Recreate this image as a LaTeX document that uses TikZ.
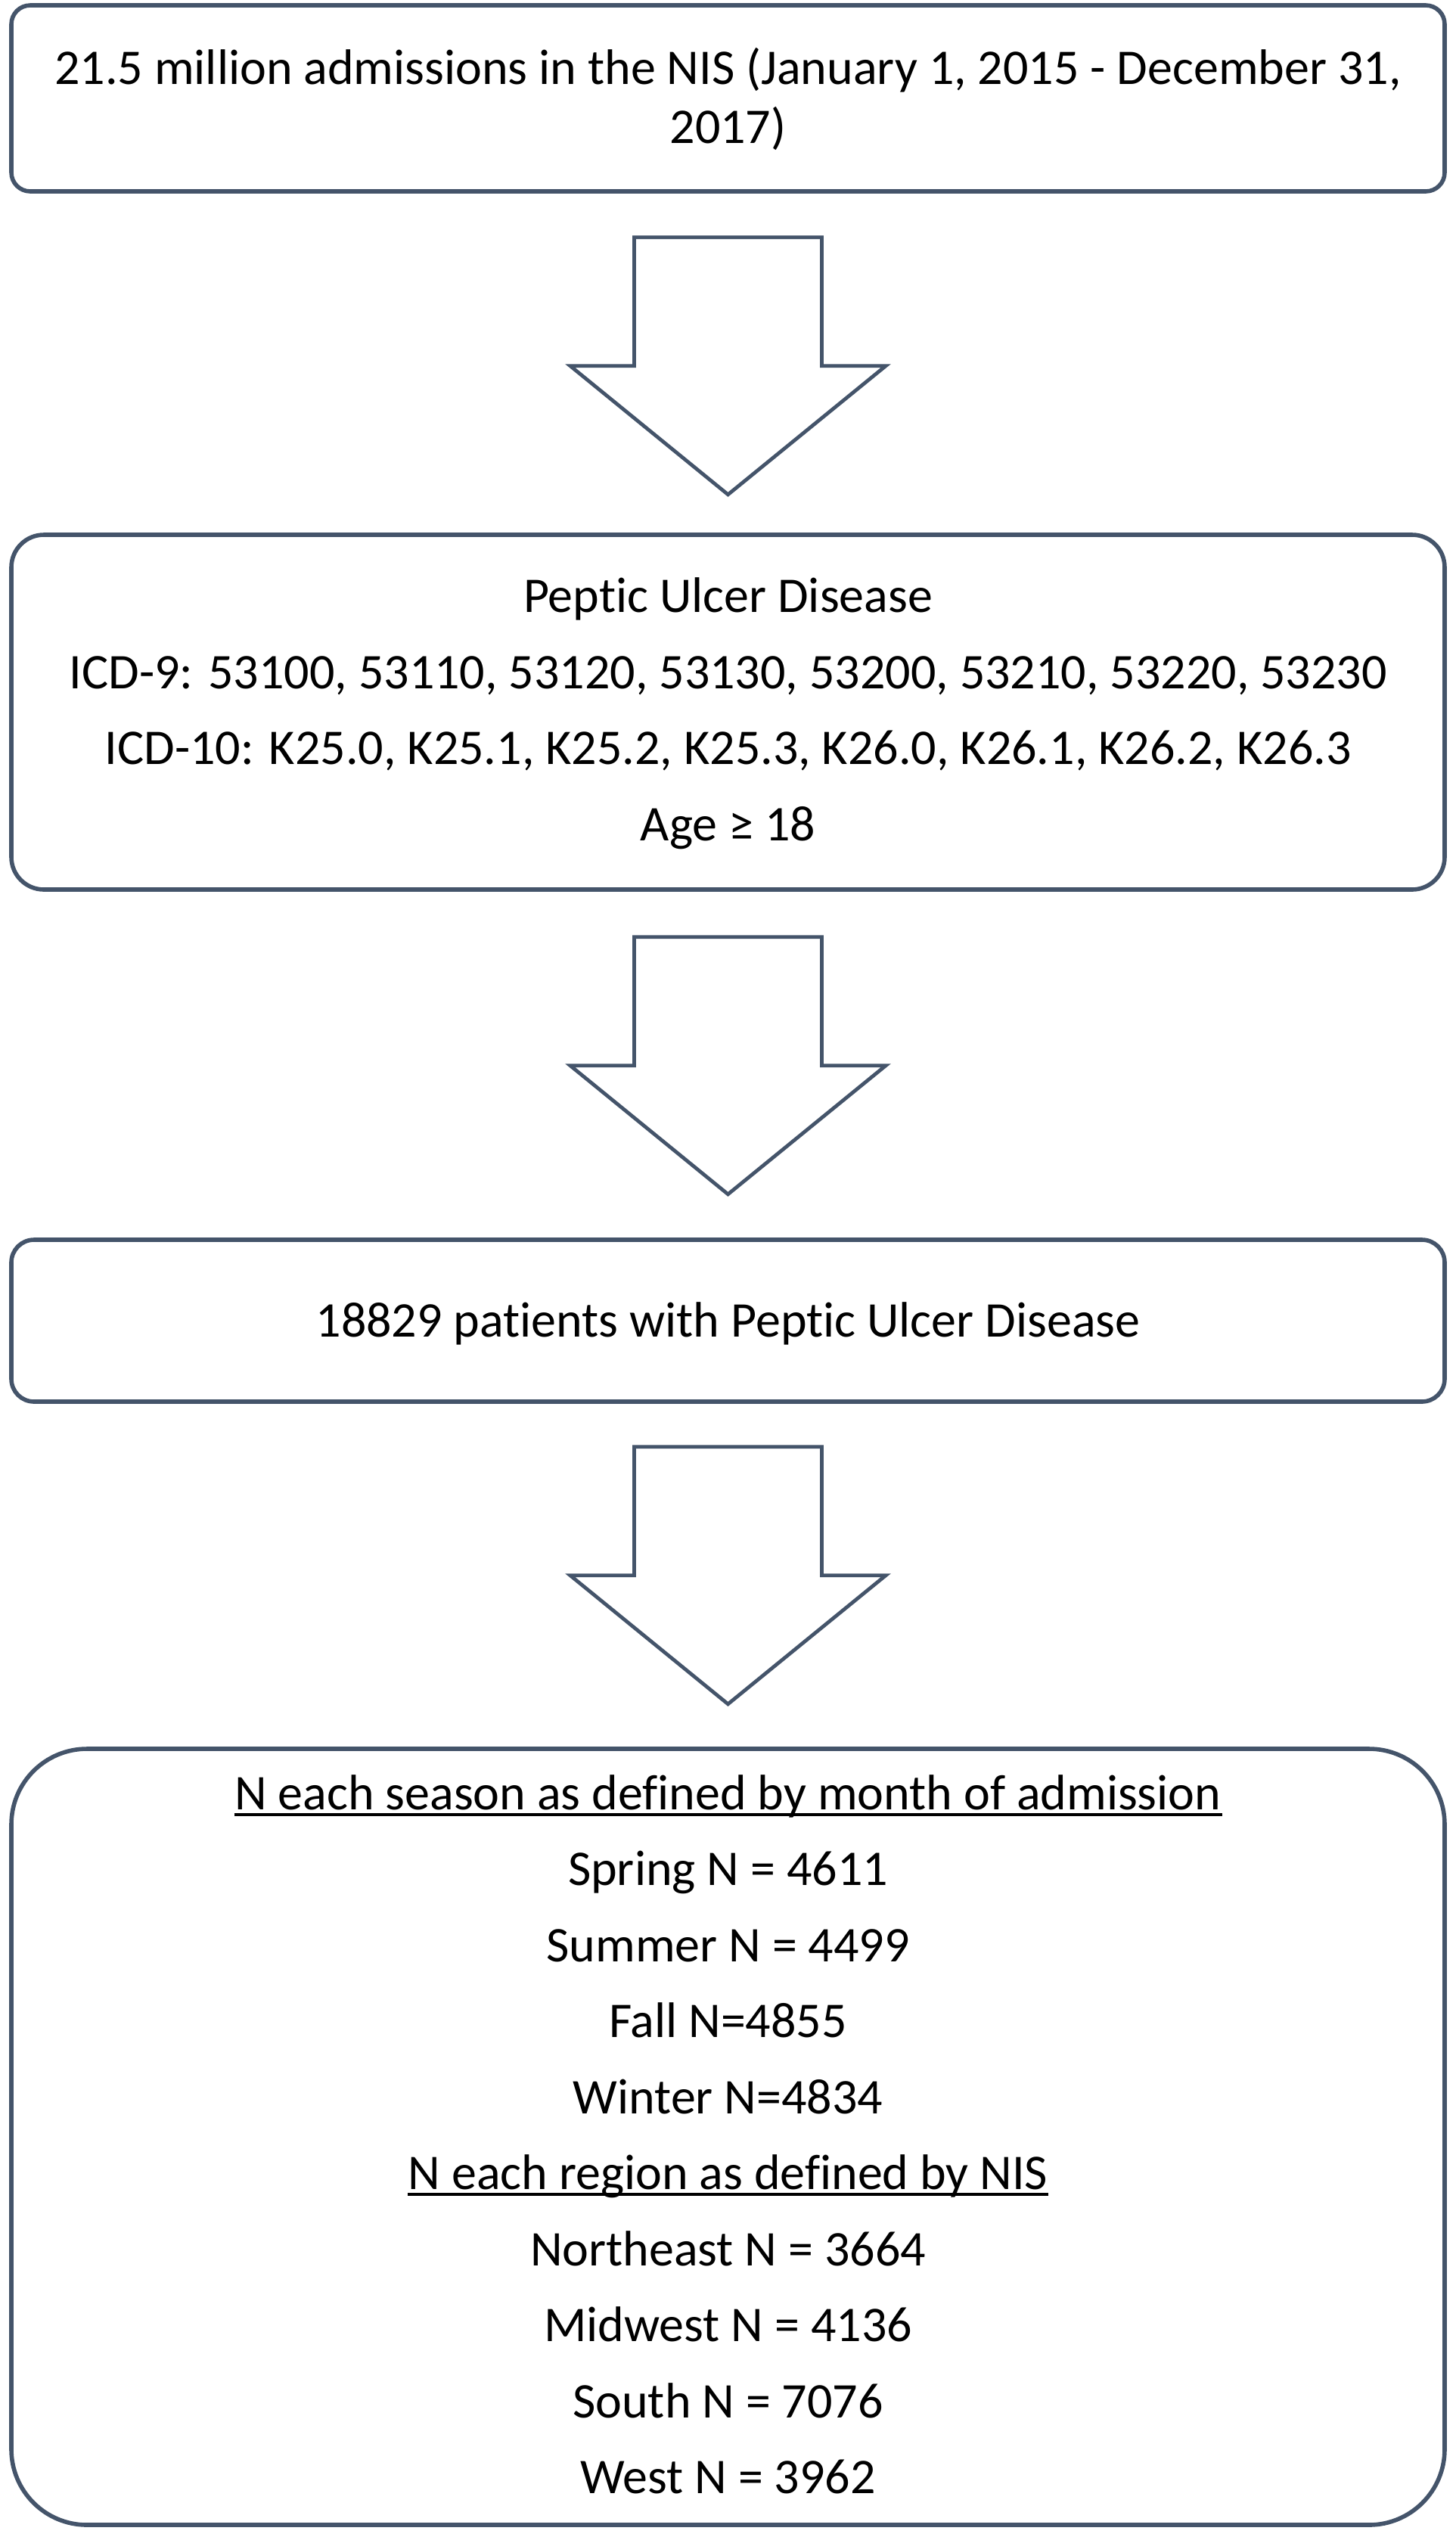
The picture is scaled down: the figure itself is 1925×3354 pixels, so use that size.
\documentclass[tikz,border=0pt]{standalone}
\usepackage{fontspec}
\setmainfont{Carlito}[Ligatures=NoCommon]
\definecolor{edgec}{HTML}{44546A}
\begin{document}
\begin{tikzpicture}[x=0.25pt,y=-0.25pt,
  box/.style={draw=edgec, line width=1.4pt, fill=white, minimum width=473.75pt, inner sep=0pt},
  txt/.style={inner sep=0pt, anchor=base, font=\fontsize{16.5pt}{20pt}\selectfont},
  ulinestyle/.style={line width=1pt},
  blockarr/.pic={\draw[draw=edgec, line width=1.2pt, fill=white, line join=miter]
    (-124,0) -- (124,0) -- (124,170) -- (208.5,170) -- (0,340) -- (-208.5,170) -- (-124,170) -- cycle;}]
\useasboundingbox (0,0) rectangle (1925,3354);

% boxes
\node[box, rounded corners=6.25pt, minimum height=61.5pt] (b1) at (962.5,130) {};
\node[box, rounded corners=10.75pt, minimum height=117.25pt] (b2) at (962.5,941.5) {};
\node[box, rounded corners=7.5pt, minimum height=53.5pt] (b3) at (962.5,1746) {};
\node[box, rounded corners=25pt, minimum height=256.5pt] (b4) at (962.5,2825) {};

% block arrows
\path ([yshift=-14.5pt]b1.south) pic {blockarr};
\path ([yshift=-15pt]b2.south) pic {blockarr};
\path ([yshift=-14.25pt]b3.south) pic {blockarr};

% box 1 text
\node[txt] (t1a) at (962.5,111) {21.5 million admissions in the NIS (January 1, 2015 - December 31,};
\node[txt] (t1b) at (962.5,189) {2017)};

% box 2 text
\node[txt] (t2a) at (962.5,809) {Peptic Ulcer Disease};
\node[txt] (t2b) at (962.5,910) {ICD-9: 53100, 53110, 53120, 53130, 53200, 53210, 53220, 53230};
\node[txt] (t2c) at (962.5,1010) {ICD-10: K25.0, K25.1, K25.2, K25.3, K26.0, K26.1, K26.2, K26.3};
\node[txt] (t2d) at (962.5,1111) {Age ≥ 18};

% box 3 text
\node[txt] (t3) at (962.5,1767) {18829 patients with Peptic Ulcer Disease};

% box 4 text
\node[txt] (t4a) at (962.5,2392) {N each season as defined by month of admission};
\node[txt] (t4b) at (962.5,2492.5) {Spring N = 4611};
\node[txt] (t4c) at (962.5,2593) {Summer N = 4499};
\node[txt] (t4d) at (962.5,2693.5) {Fall N=4855};
\node[txt] (t4e) at (962.5,2794) {Winter N=4834};
\node[txt] (t4f) at (962.5,2894.5) {N each region as defined by NIS};
\node[txt] (t4g) at (962.5,2995) {Northeast N = 3664};
\node[txt] (t4h) at (962.5,3095.5) {Midwest N = 4136};
\node[txt] (t4i) at (962.5,3196) {South N = 7076};
\node[txt] (t4j) at (962.5,3296.5) {West N = 3962};

% underlines
\draw[ulinestyle] ([yshift=-1.7pt]t4a.base west) -- ([yshift=-1.7pt]t4a.base east);
\draw[ulinestyle] ([yshift=-1.7pt]t4f.base west) -- ([yshift=-1.7pt]t4f.base east);
\end{tikzpicture}
\end{document}
